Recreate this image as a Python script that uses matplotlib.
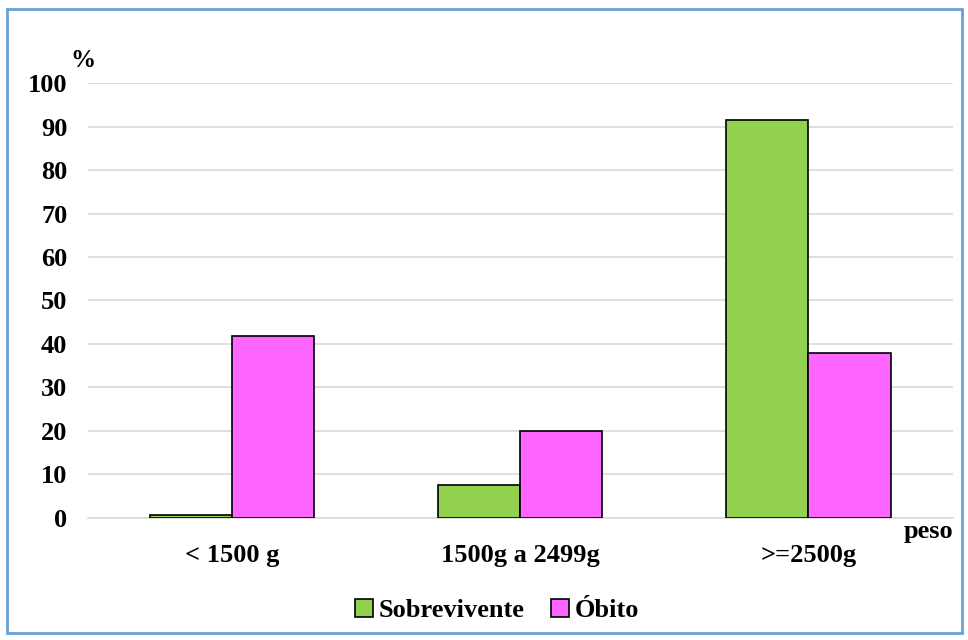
import numpy as np
import matplotlib.pyplot as plt
from matplotlib.patches import FancyBboxPatch

categorias = ['< 1500 g', '1500g a 2499g', '>=2500g']
sobrevivente = [0.6, 7.5, 91.5]
obito = [41.8, 20.0, 38.0]
series = ['Sobrevivente', 'Óbito']
cores = ['#92D050', '#FF66FF']

plt.rcParams['font.family'] = ['Liberation Serif', 'DejaVu Serif']
plt.rcParams['font.weight'] = 'bold'

fig = plt.figure(figsize=(9.68, 6.4), dpi=100)
ax = fig.add_axes([0.091, 0.191, 0.893, 0.679])

# moldura azul em volta do gráfico
fig.patches.append(FancyBboxPatch((0.007, 0.011), 0.987, 0.975,
                                  boxstyle='square,pad=0', transform=fig.transFigure,
                                  fill=False, edgecolor='#6A9FD8', linewidth=2))

x = np.arange(len(categorias))
w = 0.285
ax.bar(x - w / 2, sobrevivente, w, color=cores[0], edgecolor='black', linewidth=1.2,
       label=series[0], zorder=3)
ax.bar(x + w / 2, obito, w, color=cores[1], edgecolor='black', linewidth=1.2,
       label=series[1], zorder=3)

ax.set_xlim(-0.5, 2.5)
ax.set_ylim(0, 100)
ax.set_yticks(np.arange(0, 101, 10))
ax.yaxis.grid(True, color='#D9D9D9', linewidth=1.2, zorder=0)
ax.set_axisbelow(True)
for s in ['top', 'right', 'left']:
    ax.spines[s].set_visible(False)
ax.spines['bottom'].set_color('#D9D9D9')
ax.spines['bottom'].set_linewidth(1.2)
ax.tick_params(axis='both', length=0, labelsize=19)
ax.tick_params(axis='x', pad=19)
ax.tick_params(axis='y', pad=15)
ax.set_xticks(x)
ax.set_xticklabels(categorias, fontsize=19, fontweight='bold')
for lbl in ax.get_yticklabels():
    lbl.set_fontweight('bold')

fig.text(0.073, 0.888, '%', fontsize=18, fontweight='bold', ha='left', va='bottom')
fig.text(0.985, 0.17, 'peso', fontsize=19, fontweight='bold', ha='right', va='center')

leg = fig.legend(loc='center', bbox_to_anchor=(0.513, 0.046), ncol=2, frameon=False,
                 fontsize=19, handlelength=0.7, handleheight=0.7, handletextpad=0.2,
                 columnspacing=1.0)
for t in leg.get_texts():
    t.set_fontweight('bold')

fig.savefig('out.png', dpi=100)
